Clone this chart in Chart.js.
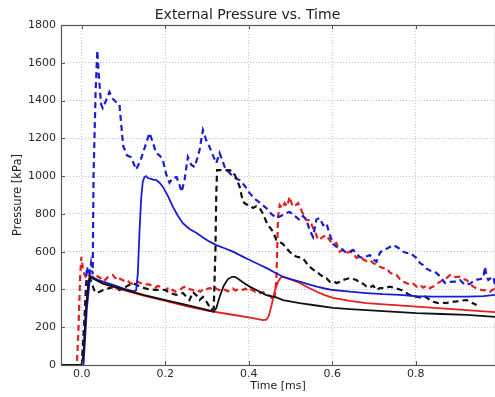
<!DOCTYPE html>
<html>
<head>
<meta charset="utf-8">
<script src="https://cdn.jsdelivr.net/npm/chart.js@4/dist/chart.umd.min.js"></script>
<style>
html,body{margin:0;padding:0;background:#fff;}
#wrap{width:495px;height:397px;position:relative;}
</style>
</head>
<body>
<div id="wrap"><canvas id="c" width="495" height="397"></canvas></div>
<script>
// ---- Data (time in ms, pressure in kPa) ----
const xTickValues = [0.0, 0.2, 0.4, 0.6, 0.8];
const yTickValues = [0, 200, 400, 600, 800, 1000, 1200, 1400, 1600, 1800];

const blueDashT = [-0.05,0.0,0.006,0.012,0.018,0.022,0.026,0.028,0.033,0.037,0.041,0.046,0.05,0.058,0.066,0.074,0.083,0.09,0.099,0.108,0.118,0.13,0.14,0.152,0.162,0.17,0.178,0.186,0.194,0.202,0.21,0.218,0.227,0.233,0.239,0.246,0.254,0.262,0.27,0.276,0.282,0.29,0.298,0.306,0.314,0.322,0.33,0.342,0.354,0.366,0.378,0.39,0.402,0.414,0.426,0.442,0.454,0.466,0.478,0.49,0.498,0.51,0.522,0.53,0.538,0.546,0.554,0.562,0.57,0.578,0.586,0.594,0.602,0.61,0.62,0.63,0.64,0.65,0.658,0.666,0.675,0.682,0.69,0.698,0.706,0.714,0.722,0.73,0.738,0.746,0.754,0.762,0.77,0.778,0.786,0.794,0.802,0.81,0.818,0.826,0.834,0.846,0.858,0.87,0.882,0.894,0.906,0.918,0.93,0.942,0.954,0.962,0.966,0.97,0.974,0.98,0.986,0.99];
const blueDashP = [0,0,250,520,470,540,480,1000,1450,1665,1520,1380,1360,1400,1445,1410,1390,1380,1160,1110,1100,1035,1080,1160,1228,1180,1122,1110,1085,1010,965,990,995,960,916,980,1101,1060,1048,1090,1138,1244,1190,1154,1110,1069,1122,1050,1016,990,979,950,910,880,860,831,800,778,790,805,810,790,767,790,767,715,678,770,778,740,751,690,640,626,620,600,598,609,590,572,566,575,582,560,547,593,609,615,625,635,626,615,600,593,593,580,566,540,529,510,500,494,470,434,440,441,450,424,430,450,455,460,520,470,450,460,467,424];

const blueSolidT = [-0.05,0.0,0.004,0.012,0.02,0.04,0.06,0.08,0.1,0.115,0.125,0.13,0.134,0.138,0.142,0.146,0.15,0.154,0.158,0.166,0.172,0.178,0.186,0.194,0.206,0.218,0.23,0.242,0.258,0.275,0.29,0.306,0.322,0.342,0.362,0.382,0.402,0.422,0.443,0.462,0.482,0.502,0.522,0.542,0.563,0.582,0.602,0.642,0.682,0.722,0.762,0.802,0.842,0.882,0.922,0.962,0.99];
const blueSolidP = [0,0,0,300,470,450,435,420,405,395,390,395,480,700,880,970,995,1000,990,985,980,980,965,944,895,838,790,751,720,699,675,653,635,618,600,578,556,535,513,490,467,453,441,428,415,405,397,388,381,375,371,364,362,362,362,365,371];

const blackSolidT = [-0.05,0.0,0.004,0.01,0.016,0.02,0.05,0.1,0.15,0.2,0.25,0.3,0.315,0.322,0.33,0.34,0.35,0.36,0.367,0.375,0.39,0.402,0.418,0.442,0.466,0.482,0.522,0.562,0.602,0.642,0.682,0.742,0.802,0.862,0.922,0.99];
const blackSolidP = [0,0,60,300,440,465,432,400,370,344,318,292,282,300,360,420,455,467,467,455,432,415,397,370,358,344,328,315,302,296,291,283,275,270,265,255];

const redSolidT = [-0.05,0.0,0.004,0.01,0.016,0.02,0.05,0.1,0.15,0.2,0.25,0.3,0.35,0.4,0.434,0.442,0.448,0.455,0.462,0.47,0.476,0.482,0.502,0.522,0.542,0.563,0.582,0.602,0.642,0.682,0.742,0.802,0.862,0.922,0.99];
const redSolidP = [0,0,60,300,450,470,430,396,366,340,312,288,270,252,238,240,260,320,390,440,462,467,452,434,410,388,370,355,340,328,318,309,300,291,280];

const blackDashT = [-0.05,0.0,0.005,0.012,0.018,0.024,0.03,0.035,0.045,0.055,0.066,0.078,0.09,0.1,0.11,0.122,0.135,0.15,0.162,0.175,0.187,0.2,0.213,0.226,0.242,0.258,0.266,0.274,0.282,0.29,0.3,0.31,0.316,0.32,0.322,0.324,0.33,0.342,0.354,0.362,0.37,0.378,0.386,0.394,0.402,0.41,0.418,0.426,0.434,0.442,0.45,0.458,0.466,0.474,0.482,0.49,0.498,0.506,0.515,0.522,0.53,0.538,0.546,0.554,0.563,0.57,0.578,0.586,0.594,0.602,0.61,0.618,0.626,0.634,0.642,0.65,0.658,0.666,0.674,0.682,0.69,0.698,0.706,0.714,0.726,0.738,0.75,0.762,0.774,0.782,0.794,0.806,0.814,0.822,0.834,0.842,0.854,0.862,0.874,0.882,0.894,0.906,0.922,0.934,0.946,0.954,0.966,0.978,0.99];
const blackDashP = [0,0,150,420,470,430,395,381,390,400,407,415,397,405,420,434,420,407,400,398,397,397,380,371,381,344,386,370,344,360,330,291,300,600,900,1032,1032,1030,1032,1023,990,944,864,850,847,831,840,831,800,759,730,706,662,653,640,618,600,582,573,570,565,540,520,505,494,480,467,460,441,445,434,440,450,455,460,455,450,434,430,415,410,420,397,407,407,415,407,400,388,375,362,360,355,362,345,335,328,330,328,335,335,340,344,330,318];

const redDashT = [-0.05,-0.012,-0.008,-0.004,-0.001,0.003,0.008,0.014,0.02,0.026,0.032,0.038,0.044,0.05,0.056,0.062,0.068,0.074,0.08,0.086,0.092,0.098,0.104,0.11,0.116,0.122,0.128,0.134,0.14,0.146,0.152,0.158,0.164,0.17,0.176,0.182,0.188,0.194,0.2,0.206,0.212,0.218,0.224,0.23,0.236,0.242,0.248,0.254,0.26,0.266,0.272,0.278,0.284,0.29,0.296,0.302,0.308,0.314,0.32,0.326,0.332,0.338,0.344,0.35,0.356,0.362,0.368,0.374,0.38,0.386,0.392,0.398,0.404,0.41,0.416,0.422,0.428,0.434,0.44,0.446,0.452,0.458,0.462,0.466,0.468,0.47,0.474,0.48,0.486,0.492,0.498,0.502,0.506,0.512,0.518,0.522,0.53,0.538,0.546,0.554,0.56,0.566,0.57,0.578,0.586,0.594,0.602,0.61,0.618,0.626,0.634,0.642,0.65,0.658,0.666,0.674,0.682,0.69,0.698,0.706,0.714,0.722,0.73,0.738,0.746,0.754,0.762,0.77,0.778,0.786,0.794,0.802,0.81,0.818,0.826,0.834,0.842,0.85,0.858,0.866,0.874,0.882,0.89,0.898,0.906,0.914,0.922,0.93,0.938,0.946,0.954,0.962,0.97,0.978,0.986,0.99];
const redDashP = [0,0,200,480,573,500,470,455,470,467,455,470,460,467,450,465,470,476,460,470,455,450,440,445,434,430,440,441,434,430,425,428,424,420,410,418,415,400,397,405,392,398,388,395,400,410,415,405,400,397,390,395,388,400,395,405,407,398,407,400,395,402,397,390,400,405,395,400,397,398,405,392,400,395,388,392,381,385,380,370,365,344,360,450,600,780,847,830,857,840,891,860,838,845,857,838,800,767,767,725,700,662,665,679,688,660,640,646,600,610,593,600,593,566,575,560,550,556,540,530,520,513,512,490,480,476,455,440,434,425,430,415,424,410,420,407,415,430,440,450,460,476,465,467,467,455,450,430,415,405,400,395,397,388,400,407];

// ---- build ----
function pts(t, p){ return t.map((v,i)=>({x:v, y:p[i]})); }
const BLUE = '#1c1cd2', RED = '#e3201e', BLACK = '#111111';
const DASH = [6,4];

Chart.defaults.font.family = "'DejaVu Sans', sans-serif";
Chart.defaults.color = '#2a2a2a';

const frame = {
  id:'frame',
  afterDraw(chart){
    const {ctx, chartArea:a, scales} = chart;
    ctx.save();
    ctx.strokeStyle = '#555';
    ctx.lineWidth = 1.2;
    ctx.strokeRect(a.left+0.5, a.top+0.5, a.right-a.left, a.bottom-a.top);
    ctx.lineWidth = 1;
    ctx.beginPath();
    for (const v of xTickValues){
      const x = Math.round(scales.x.getPixelForValue(v))+0.5;
      ctx.moveTo(x, a.top); ctx.lineTo(x, a.top+4);
      ctx.moveTo(x, a.bottom); ctx.lineTo(x, a.bottom-4);
    }
    for (const v of yTickValues){
      const y = Math.round(scales.y.getPixelForValue(v))+0.5;
      ctx.moveTo(a.left, y); ctx.lineTo(a.left+4, y);
    }
    ctx.stroke();
    ctx.restore();
  }
};

new Chart(document.getElementById('c'), {
  type:'line',
  data:{
    datasets:[
      {data:pts(blackSolidT, blackSolidP), borderColor:BLACK, borderWidth:1.8},
      {data:pts(blueSolidT, blueSolidP), borderColor:BLUE, borderWidth:1.8},
      {data:pts(redSolidT, redSolidP), borderColor:RED, borderWidth:1.8},
      {data:pts(blackDashT, blackDashP), borderColor:BLACK, borderWidth:2.2, borderDash:DASH},
      {data:pts(blueDashT, blueDashP), borderColor:BLUE, borderWidth:2.2, borderDash:DASH},
      {data:pts(redDashT, redDashP), borderColor:RED, borderWidth:2.2, borderDash:DASH}
    ]
  },
  options:{
    responsive:false,
    animation:false,
    events:[],
    layout:{padding:{left:0,right:0,top:0,bottom:0}},
    elements:{point:{radius:0}, line:{tension:0, fill:false}},
    plugins:{
      legend:{display:false},
      tooltip:{enabled:false},
      title:{display:true, text:'External Pressure vs. Time', font:{size:14, weight:'normal'}, color:'#222', padding:{top:6.6,bottom:1.6}}
    },
    scales:{
      x:{
        type:'linear', min:-0.05, max:0.99,
        afterBuildTicks(s){ s.ticks = xTickValues.map(v=>({value:v})); },
        afterFit(s){ s.height = 32; },
        ticks:{padding:3, font:{size:11}, color:'#2a2a2a', maxRotation:0, callback:v=>Number(v).toFixed(1)},
        grid:{drawTicks:false, color:'#c4c4c4', lineWidth:1},
        border:{display:false, dash:[1,2]},
        title:{display:true, text:'Time [ms]', font:{size:11}, color:'#222', padding:{top:0,bottom:4}}
      },
      y:{
        min:0, max:1800,
        afterBuildTicks(s){ s.ticks = yTickValues.map(v=>({value:v})); },
        afterFit(s){ s.width = 61; },
        ticks:{padding:5, font:{size:11}, color:'#2a2a2a', callback:v=>String(v)},
        grid:{drawTicks:false, color:'#c4c4c4', lineWidth:1},
        border:{display:false, dash:[1,2]},
        title:{display:true, text:'Pressure [kPa]', font:{size:11.5}, color:'#222', padding:{top:11,bottom:0}}
      }
    }
  },
  plugins:[frame]
});
</script>
</body>
</html>
